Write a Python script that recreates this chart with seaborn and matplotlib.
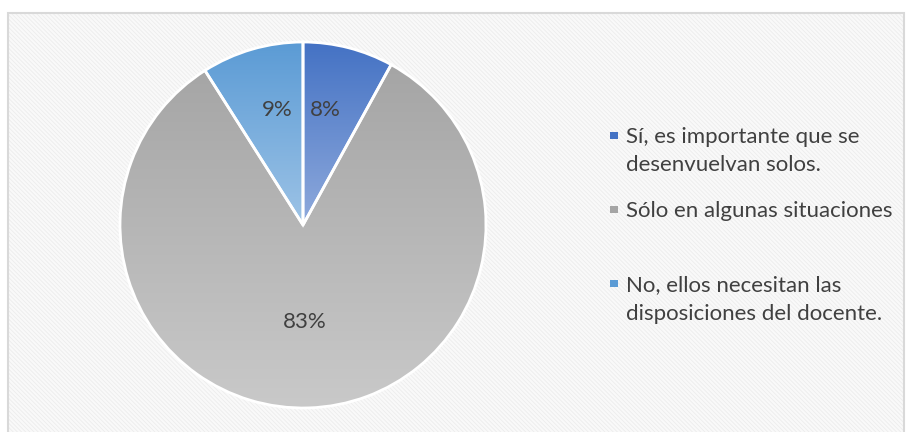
import numpy as np
import matplotlib.pyplot as plt
import matplotlib.colors as mcolors
from matplotlib.patches import Rectangle
from matplotlib.legend_handler import HandlerBase
import seaborn as sns

# Data
labels = ["Sí, es importante que se\ndesenvuelvan solos.",
          "Sólo en algunas situaciones\n",
          "No, ellos necesitan las\ndisposiciones del docente."]
values = [8, 83, 9]
top_colors = ["#4472C4", "#A5A5A5", "#5B9BD5"]
bottom_colors = ["#8FAADC", "#C9C9C9", "#9DC3E6"]

sns.set_theme(style="white")
plt.rcParams['font.family'] = ['Lato', 'DejaVu Sans']
plt.rcParams['hatch.linewidth'] = 1.6

FS = 16
LINESP = 1.53

W, H = 912, 432
fig = plt.figure(figsize=(W / 100, H / 100), dpi=100)

# Patterned chart area background with light border
bg = Rectangle((8 / W, 0), 896 / W, 419 / H, transform=fig.transFigure,
               facecolor="#EBEBEB", edgecolor="#F9F9F9", hatch="\\" * 8,
               linewidth=0, zorder=-2)
fig.patches.append(bg)
border = Rectangle((8 / W, -0.01), 896 / W, 419 / H + 0.01, transform=fig.transFigure,
                   facecolor="none", edgecolor="#D9D9D9", linewidth=1.5, zorder=-1)
fig.patches.append(border)

# Pie axes
cx, cy, r = 303, 225, 183
ax = fig.add_axes([(cx - r) / W, (H - cy - r) / H, 2 * r / W, 2 * r / H])
ax.set_facecolor("none")

wedges, texts, autotexts = ax.pie(
    values, startangle=90, counterclock=False, colors=top_colors,
    autopct="%1.0f%%", pctdistance=0.64,
    wedgeprops=dict(edgecolor="white", linewidth=2.0),
    textprops=dict(color="#404040", fontsize=FS),
)
ax.set_aspect("equal")
ax.axis("off")

# vertical gradient fill inside each wedge
for w, c0, c1 in zip(wedges, top_colors, bottom_colors):
    ext = w.get_path().get_extents()
    cmap = mcolors.LinearSegmentedColormap.from_list("g", [c0, c1])
    grad = np.linspace(0, 1, 256).reshape(-1, 1)
    im = ax.imshow(grad, cmap=cmap, aspect="auto",
                   extent=[ext.x0, ext.x1, ext.y0, ext.y1], origin="upper",
                   zorder=0.9)
    im.set_clip_path(w)
    w.set_facecolor("none")
    w.set_zorder(1)

ax.set_xlim(-1.0, 1.0)
ax.set_ylim(-1.0, 1.0)

# Excel-like label placement
autotexts[0].set_position((0.12, 0.63))
autotexts[2].set_position((-0.14, 0.63))
autotexts[1].set_position((0.01, -0.53))


class TopSquare(HandlerBase):
    """Small square marker aligned with the first line of a 2-line label."""
    def __init__(self, color):
        super().__init__()
        self.color = color

    def create_artists(self, legend, orig_handle, xdescent, ydescent,
                       width, height, fontsize, trans):
        s = 0.34 * fontsize
        yc = 1.07 * fontsize
        p = Rectangle((-xdescent, yc - s / 2), s, s, facecolor=self.color,
                      edgecolor="none", transform=trans)
        return [p]


leg = fig.legend(wedges, labels, loc="upper left",
                 bbox_to_anchor=(610 / W, 1 - 127 / H), frameon=False,
                 fontsize=FS, handlelength=0.34, handleheight=0.5,
                 handletextpad=0.38, labelspacing=1.15, borderpad=0,
                 borderaxespad=0, labelcolor="#404040",
                 handler_map={w: TopSquare(c) for w, c in zip(wedges, top_colors)})
for t in leg.get_texts():
    t.set_linespacing(LINESP)

fig.savefig("out.png", dpi=100)
